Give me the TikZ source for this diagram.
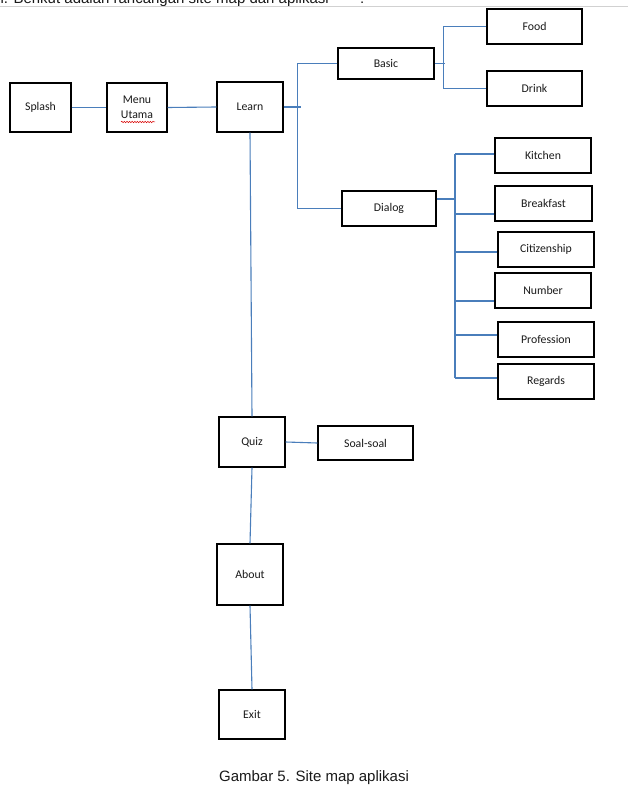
\documentclass[tikz,border=0pt]{standalone}
\usepackage{fontspec}
\setmainfont{Carlito}
\newfontfamily\capfont{Liberation Sans}
\usetikzlibrary{decorations.pathmorphing}
\definecolor{linkblue}{HTML}{4A7EBB}
\definecolor{txtgray}{HTML}{1A1A1A}
\begin{document}
\begin{tikzpicture}[x=1pt,y=-1pt,
  box/.style={draw=black, line width=1.2pt, fill=white, inner sep=0pt,
    font=\fontsize{11.8}{15.5}\selectfont, align=center, text=txtgray},
  link/.style={draw=linkblue, line width=1.1pt},
  captext/.style={font=\capfont\fontsize{15}{18}\selectfont, inner sep=0pt, text=txtgray}]
\useasboundingbox (0,0) rectangle (628,810);
\fill[white] (0,0) rectangle (628,810);

% cut-off heading and rule (cut at the top edge, as in the reference)
\node[captext, anchor=base west] (head) at (-3,4) {ii. Berikut adalah rancangan site map dari aplikasi};
\node[captext, anchor=base west] (colon) at (360,4) {:};
\coordinate (ruleL) at (0,6.5);
\coordinate (ruleR) at (628,6.5);
\draw[black!18, line width=0.8pt] (ruleL) -- (ruleR);

% boxes
\node[box, minimum width=61pt, minimum height=49pt] (splash) at (40.5,107.5) {Splash};
\node[box, minimum width=60pt, minimum height=49pt] (menu) at (137,107.5) {Menu\\Utama};
\node[box, minimum width=66pt, minimum height=50pt] (learn) at (250,107) {Learn};
\node[box, minimum width=96pt, minimum height=31pt] (basic) at (386,63.5) {Basic};
\node[box, minimum width=95pt, minimum height=35pt] (food) at (534.5,26.5) {Food};
\node[box, minimum width=95pt, minimum height=35pt] (drink) at (534.5,88.5) {Drink};
\node[box, minimum width=94pt, minimum height=35pt] (dialog) at (389,208.5) {Dialog};
\node[box, minimum width=96pt, minimum height=35pt] (kitchen) at (543,155.5) {Kitchen};
\node[box, minimum width=97pt, minimum height=35pt] (breakfast) at (543.5,203.5) {Breakfast};
\node[box, minimum width=96pt, minimum height=35pt] (citizen) at (546,249.5) {Citizenship};
\node[box, minimum width=96pt, minimum height=35pt] (number) at (543,290.5) {Number};
\node[box, minimum width=96pt, minimum height=35pt] (profession) at (546,339.5) {Profession};
\node[box, minimum width=96pt, minimum height=35pt] (regards) at (546,381.5) {Regards};
\node[box, minimum width=66pt, minimum height=50pt] (quiz) at (252,442) {Quiz};
\node[box, minimum width=95pt, minimum height=34pt] (soal) at (365.5,443) {Soal-soal};
\node[box, minimum width=66pt, minimum height=61pt] (about) at (250,574.5) {About};
\node[box, minimum width=66pt, minimum height=49pt] (exit) at (252,714.5) {Exit};

% spell-check squiggle under "Utama"
\coordinate (sqL) at (121,122);
\coordinate (sqR) at (155,122);
\draw[red!85!black, line width=0.5pt, decorate,
  decoration={snake, amplitude=0.7pt, segment length=2.6pt}] (sqL) -- (sqR);

% connectors
\draw[link] (splash.east) -- (menu.west);
\draw[link] (menu.east) -- (learn.west);
\coordinate (learnTip) at (301,107);
\draw[link] (learn.east) -- (learnTip);
\draw[link] (basic.west) -- ++(-40,0) |- (dialog.west);

\draw[link] (basic.east) -- ++(10,0);
\draw[link] (food.west) -- ++(-43,0) |- (drink.west);

\coordinate (dtop) at (455,154);
\coordinate (dbot) at (455,378);
\draw[link] (dtop) -- (dbot);
\draw[link] ([yshift=9.5pt]dialog.east) -- ([yshift=9.5pt]dialog.east -| dtop);
\draw[link] ([yshift=1.5pt]kitchen.west) -- ([yshift=1.5pt]kitchen.west -| dtop);
\draw[link] ([yshift=-10.5pt]breakfast.west) -- ([yshift=-10.5pt]breakfast.west -| dtop);
\draw[link] ([yshift=-2.5pt]citizen.west) -- ([yshift=-2.5pt]citizen.west -| dtop);
\draw[link] ([yshift=-10.5pt]number.west) -- ([yshift=-10.5pt]number.west -| dtop);
\draw[link] ([yshift=4.5pt]profession.west) -- ([yshift=4.5pt]profession.west -| dtop);
\draw[link] ([yshift=3.5pt]regards.west) -- ([yshift=3.5pt]regards.west -| dtop);

\draw[link] (learn.south) -- (quiz.north);
\draw[link] (quiz.east) -- (soal.west);
\draw[link] (quiz.south) -- (about.north);
\draw[link] (about.south) -- (exit.north);

% caption
\node[captext, anchor=base] (cap) at (314,781) {Gambar 5. Site map aplikasi};
\end{tikzpicture}
\end{document}
